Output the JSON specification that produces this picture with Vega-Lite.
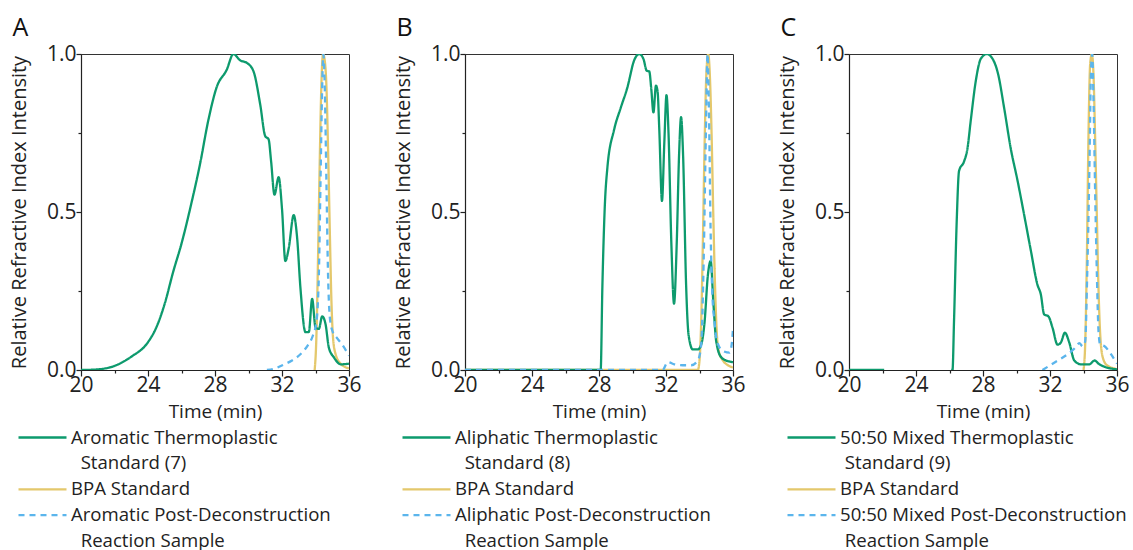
{
  "$schema": "https://vega.github.io/schema/vega-lite/v6.json",
  "padding": {"left": 8, "top": 15, "right": 5, "bottom": 0},
  "background": "white",
  "config": {
    "font": "Open Sans",
    "view": {"stroke": "#333", "strokeWidth": 1},
    "axis": {
      "grid": false,
      "labelFont": "Open Sans", "labelFontSize": 21, "labelColor": "#222",
      "titleFont": "Open Sans", "titleFontSize": 19, "titleFontWeight": "normal", "titleColor": "#222",
      "domainColor": "#222", "domainWidth": 1.2, "tickColor": "#222", "tickWidth": 1.2
    },
    "axisY": {"titleFontSize": 20},
    "title": {"font": "Open Sans", "fontSize": 25, "fontWeight": "normal", "color": "#111", "anchor": "start", "frame": "bounds", "offset": 2, "dx": 3},
    "legend": {"labelFont": "Open Sans", "labelFontSize": 18.6, "labelColor": "#222", "labelLimit": 500}
  },
  "datasets": {
    "A": [
      {"s": "BPA Standard", "t": 33.95, "v": 0},
      {"s": "BPA Standard", "t": 34.05, "v": 0.1},
      {"s": "BPA Standard", "t": 34.15, "v": 0.35},
      {"s": "BPA Standard", "t": 34.25, "v": 0.65},
      {"s": "BPA Standard", "t": 34.35, "v": 0.9},
      {"s": "BPA Standard", "t": 34.45, "v": 1.0},
      {"s": "BPA Standard", "t": 34.55, "v": 0.98},
      {"s": "BPA Standard", "t": 34.65, "v": 0.9},
      {"s": "BPA Standard", "t": 34.75, "v": 0.7},
      {"s": "BPA Standard", "t": 34.85, "v": 0.45},
      {"s": "BPA Standard", "t": 34.95, "v": 0.22},
      {"s": "BPA Standard", "t": 35.05, "v": 0.1},
      {"s": "BPA Standard", "t": 35.2, "v": 0.05},
      {"s": "BPA Standard", "t": 35.5, "v": 0.02},
      {"s": "BPA Standard", "t": 36, "v": 0.005},
      {"s": "Aromatic Thermoplastic Standard (7)", "t": 20, "v": 0},
      {"s": "Aromatic Thermoplastic Standard (7)", "t": 21, "v": 0.002},
      {"s": "Aromatic Thermoplastic Standard (7)", "t": 22, "v": 0.013},
      {"s": "Aromatic Thermoplastic Standard (7)", "t": 23, "v": 0.042},
      {"s": "Aromatic Thermoplastic Standard (7)", "t": 24, "v": 0.088},
      {"s": "Aromatic Thermoplastic Standard (7)", "t": 24.5, "v": 0.135},
      {"s": "Aromatic Thermoplastic Standard (7)", "t": 25.0, "v": 0.21},
      {"s": "Aromatic Thermoplastic Standard (7)", "t": 25.5, "v": 0.31},
      {"s": "Aromatic Thermoplastic Standard (7)", "t": 26.0, "v": 0.4},
      {"s": "Aromatic Thermoplastic Standard (7)", "t": 26.6, "v": 0.53},
      {"s": "Aromatic Thermoplastic Standard (7)", "t": 27.1, "v": 0.65},
      {"s": "Aromatic Thermoplastic Standard (7)", "t": 27.6, "v": 0.79},
      {"s": "Aromatic Thermoplastic Standard (7)", "t": 28.1, "v": 0.895},
      {"s": "Aromatic Thermoplastic Standard (7)", "t": 28.7, "v": 0.95},
      {"s": "Aromatic Thermoplastic Standard (7)", "t": 29.1, "v": 1.0},
      {"s": "Aromatic Thermoplastic Standard (7)", "t": 29.5, "v": 0.98},
      {"s": "Aromatic Thermoplastic Standard (7)", "t": 29.9, "v": 0.972},
      {"s": "Aromatic Thermoplastic Standard (7)", "t": 30.3, "v": 0.945},
      {"s": "Aromatic Thermoplastic Standard (7)", "t": 30.7, "v": 0.84},
      {"s": "Aromatic Thermoplastic Standard (7)", "t": 31.0, "v": 0.74},
      {"s": "Aromatic Thermoplastic Standard (7)", "t": 31.2, "v": 0.73},
      {"s": "Aromatic Thermoplastic Standard (7)", "t": 31.35, "v": 0.66},
      {"s": "Aromatic Thermoplastic Standard (7)", "t": 31.55, "v": 0.555},
      {"s": "Aromatic Thermoplastic Standard (7)", "t": 31.8, "v": 0.61},
      {"s": "Aromatic Thermoplastic Standard (7)", "t": 32.0, "v": 0.51},
      {"s": "Aromatic Thermoplastic Standard (7)", "t": 32.2, "v": 0.345},
      {"s": "Aromatic Thermoplastic Standard (7)", "t": 32.4, "v": 0.385},
      {"s": "Aromatic Thermoplastic Standard (7)", "t": 32.7, "v": 0.49},
      {"s": "Aromatic Thermoplastic Standard (7)", "t": 32.9, "v": 0.42},
      {"s": "Aromatic Thermoplastic Standard (7)", "t": 33.1, "v": 0.26},
      {"s": "Aromatic Thermoplastic Standard (7)", "t": 33.4, "v": 0.12},
      {"s": "Aromatic Thermoplastic Standard (7)", "t": 33.6, "v": 0.12},
      {"s": "Aromatic Thermoplastic Standard (7)", "t": 33.8, "v": 0.225},
      {"s": "Aromatic Thermoplastic Standard (7)", "t": 34.0, "v": 0.135},
      {"s": "Aromatic Thermoplastic Standard (7)", "t": 34.2, "v": 0.13},
      {"s": "Aromatic Thermoplastic Standard (7)", "t": 34.4, "v": 0.17},
      {"s": "Aromatic Thermoplastic Standard (7)", "t": 34.6, "v": 0.145},
      {"s": "Aromatic Thermoplastic Standard (7)", "t": 34.8, "v": 0.07},
      {"s": "Aromatic Thermoplastic Standard (7)", "t": 35.1, "v": 0.04},
      {"s": "Aromatic Thermoplastic Standard (7)", "t": 35.5, "v": 0.018},
      {"s": "Aromatic Thermoplastic Standard (7)", "t": 36, "v": 0.02},
      {"s": "Aromatic Post-Deconstruction Reaction Sample", "t": 31.1, "v": 0},
      {"s": "Aromatic Post-Deconstruction Reaction Sample", "t": 31.6, "v": 0.005},
      {"s": "Aromatic Post-Deconstruction Reaction Sample", "t": 32.1, "v": 0.017},
      {"s": "Aromatic Post-Deconstruction Reaction Sample", "t": 32.6, "v": 0.03},
      {"s": "Aromatic Post-Deconstruction Reaction Sample", "t": 33.1, "v": 0.05},
      {"s": "Aromatic Post-Deconstruction Reaction Sample", "t": 33.5, "v": 0.075},
      {"s": "Aromatic Post-Deconstruction Reaction Sample", "t": 33.85, "v": 0.11},
      {"s": "Aromatic Post-Deconstruction Reaction Sample", "t": 34.05, "v": 0.15},
      {"s": "Aromatic Post-Deconstruction Reaction Sample", "t": 34.2, "v": 0.3},
      {"s": "Aromatic Post-Deconstruction Reaction Sample", "t": 34.3, "v": 0.6},
      {"s": "Aromatic Post-Deconstruction Reaction Sample", "t": 34.4, "v": 0.9},
      {"s": "Aromatic Post-Deconstruction Reaction Sample", "t": 34.47, "v": 1.0},
      {"s": "Aromatic Post-Deconstruction Reaction Sample", "t": 34.55, "v": 0.9},
      {"s": "Aromatic Post-Deconstruction Reaction Sample", "t": 34.65, "v": 0.6},
      {"s": "Aromatic Post-Deconstruction Reaction Sample", "t": 34.75, "v": 0.3},
      {"s": "Aromatic Post-Deconstruction Reaction Sample", "t": 34.85, "v": 0.17},
      {"s": "Aromatic Post-Deconstruction Reaction Sample", "t": 35.0, "v": 0.125},
      {"s": "Aromatic Post-Deconstruction Reaction Sample", "t": 35.3, "v": 0.1},
      {"s": "Aromatic Post-Deconstruction Reaction Sample", "t": 35.6, "v": 0.08},
      {"s": "Aromatic Post-Deconstruction Reaction Sample", "t": 36, "v": 0.045}
    ],
    "B": [
      {"s": "BPA Standard", "t": 20, "v": 0},
      {"s": "BPA Standard", "t": 33.9, "v": 0},
      {"s": "BPA Standard", "t": 34.0, "v": 0.03},
      {"s": "BPA Standard", "t": 34.1, "v": 0.15},
      {"s": "BPA Standard", "t": 34.2, "v": 0.4},
      {"s": "BPA Standard", "t": 34.3, "v": 0.7},
      {"s": "BPA Standard", "t": 34.42, "v": 0.95},
      {"s": "BPA Standard", "t": 34.52, "v": 1.0},
      {"s": "BPA Standard", "t": 34.62, "v": 0.93},
      {"s": "BPA Standard", "t": 34.72, "v": 0.75},
      {"s": "BPA Standard", "t": 34.82, "v": 0.5},
      {"s": "BPA Standard", "t": 34.92, "v": 0.28},
      {"s": "BPA Standard", "t": 35.02, "v": 0.13},
      {"s": "BPA Standard", "t": 35.15, "v": 0.06},
      {"s": "BPA Standard", "t": 35.4, "v": 0.03},
      {"s": "BPA Standard", "t": 35.7, "v": 0.015},
      {"s": "BPA Standard", "t": 36, "v": 0.008},
      {"s": "Aliphatic Thermoplastic Standard (8)", "t": 20, "v": 0},
      {"s": "Aliphatic Thermoplastic Standard (8)", "t": 28.1, "v": 0},
      {"s": "Aliphatic Thermoplastic Standard (8)", "t": 28.2, "v": 0.26},
      {"s": "Aliphatic Thermoplastic Standard (8)", "t": 28.34, "v": 0.51},
      {"s": "Aliphatic Thermoplastic Standard (8)", "t": 28.5, "v": 0.64},
      {"s": "Aliphatic Thermoplastic Standard (8)", "t": 28.9, "v": 0.76},
      {"s": "Aliphatic Thermoplastic Standard (8)", "t": 29.3, "v": 0.83},
      {"s": "Aliphatic Thermoplastic Standard (8)", "t": 29.7, "v": 0.895},
      {"s": "Aliphatic Thermoplastic Standard (8)", "t": 30.1, "v": 0.98},
      {"s": "Aliphatic Thermoplastic Standard (8)", "t": 30.4, "v": 1.0},
      {"s": "Aliphatic Thermoplastic Standard (8)", "t": 30.65, "v": 0.985},
      {"s": "Aliphatic Thermoplastic Standard (8)", "t": 30.85, "v": 0.947},
      {"s": "Aliphatic Thermoplastic Standard (8)", "t": 31.0, "v": 0.945},
      {"s": "Aliphatic Thermoplastic Standard (8)", "t": 31.12, "v": 0.89},
      {"s": "Aliphatic Thermoplastic Standard (8)", "t": 31.25, "v": 0.815},
      {"s": "Aliphatic Thermoplastic Standard (8)", "t": 31.4, "v": 0.9},
      {"s": "Aliphatic Thermoplastic Standard (8)", "t": 31.5, "v": 0.88},
      {"s": "Aliphatic Thermoplastic Standard (8)", "t": 31.6, "v": 0.76},
      {"s": "Aliphatic Thermoplastic Standard (8)", "t": 31.76, "v": 0.535},
      {"s": "Aliphatic Thermoplastic Standard (8)", "t": 31.9, "v": 0.72},
      {"s": "Aliphatic Thermoplastic Standard (8)", "t": 32.03, "v": 0.87},
      {"s": "Aliphatic Thermoplastic Standard (8)", "t": 32.15, "v": 0.75},
      {"s": "Aliphatic Thermoplastic Standard (8)", "t": 32.32, "v": 0.4},
      {"s": "Aliphatic Thermoplastic Standard (8)", "t": 32.48, "v": 0.21},
      {"s": "Aliphatic Thermoplastic Standard (8)", "t": 32.64, "v": 0.4},
      {"s": "Aliphatic Thermoplastic Standard (8)", "t": 32.78, "v": 0.68},
      {"s": "Aliphatic Thermoplastic Standard (8)", "t": 32.9, "v": 0.8},
      {"s": "Aliphatic Thermoplastic Standard (8)", "t": 33.02, "v": 0.68},
      {"s": "Aliphatic Thermoplastic Standard (8)", "t": 33.2, "v": 0.27},
      {"s": "Aliphatic Thermoplastic Standard (8)", "t": 33.35, "v": 0.11},
      {"s": "Aliphatic Thermoplastic Standard (8)", "t": 33.6, "v": 0.065},
      {"s": "Aliphatic Thermoplastic Standard (8)", "t": 33.9, "v": 0.065},
      {"s": "Aliphatic Thermoplastic Standard (8)", "t": 34.1, "v": 0.08},
      {"s": "Aliphatic Thermoplastic Standard (8)", "t": 34.3, "v": 0.15},
      {"s": "Aliphatic Thermoplastic Standard (8)", "t": 34.5, "v": 0.3},
      {"s": "Aliphatic Thermoplastic Standard (8)", "t": 34.67, "v": 0.345},
      {"s": "Aliphatic Thermoplastic Standard (8)", "t": 34.82, "v": 0.22},
      {"s": "Aliphatic Thermoplastic Standard (8)", "t": 35.0, "v": 0.09},
      {"s": "Aliphatic Thermoplastic Standard (8)", "t": 35.3, "v": 0.04},
      {"s": "Aliphatic Thermoplastic Standard (8)", "t": 35.7, "v": 0.028},
      {"s": "Aliphatic Thermoplastic Standard (8)", "t": 36, "v": 0.025},
      {"s": "Aliphatic Post-Deconstruction Reaction Sample", "t": 20, "v": 0},
      {"s": "Aliphatic Post-Deconstruction Reaction Sample", "t": 31.8, "v": 0},
      {"s": "Aliphatic Post-Deconstruction Reaction Sample", "t": 32.1, "v": 0.025},
      {"s": "Aliphatic Post-Deconstruction Reaction Sample", "t": 32.5, "v": 0.018},
      {"s": "Aliphatic Post-Deconstruction Reaction Sample", "t": 33.0, "v": 0.015},
      {"s": "Aliphatic Post-Deconstruction Reaction Sample", "t": 33.5, "v": 0.015},
      {"s": "Aliphatic Post-Deconstruction Reaction Sample", "t": 33.9, "v": 0.03},
      {"s": "Aliphatic Post-Deconstruction Reaction Sample", "t": 34.1, "v": 0.08},
      {"s": "Aliphatic Post-Deconstruction Reaction Sample", "t": 34.25, "v": 0.35},
      {"s": "Aliphatic Post-Deconstruction Reaction Sample", "t": 34.38, "v": 0.75},
      {"s": "Aliphatic Post-Deconstruction Reaction Sample", "t": 34.48, "v": 1.0},
      {"s": "Aliphatic Post-Deconstruction Reaction Sample", "t": 34.57, "v": 0.8},
      {"s": "Aliphatic Post-Deconstruction Reaction Sample", "t": 34.66, "v": 0.45},
      {"s": "Aliphatic Post-Deconstruction Reaction Sample", "t": 34.76, "v": 0.25},
      {"s": "Aliphatic Post-Deconstruction Reaction Sample", "t": 34.9, "v": 0.15},
      {"s": "Aliphatic Post-Deconstruction Reaction Sample", "t": 35.05, "v": 0.09},
      {"s": "Aliphatic Post-Deconstruction Reaction Sample", "t": 35.4, "v": 0.06},
      {"s": "Aliphatic Post-Deconstruction Reaction Sample", "t": 35.8, "v": 0.055},
      {"s": "Aliphatic Post-Deconstruction Reaction Sample", "t": 35.92, "v": 0.08},
      {"s": "Aliphatic Post-Deconstruction Reaction Sample", "t": 36, "v": 0.13}
    ],
    "C": [
      {"s": "BPA Standard", "t": 34.0, "v": 0},
      {"s": "BPA Standard", "t": 34.1, "v": 0.08},
      {"s": "BPA Standard", "t": 34.2, "v": 0.35},
      {"s": "BPA Standard", "t": 34.3, "v": 0.75},
      {"s": "BPA Standard", "t": 34.4, "v": 0.97},
      {"s": "BPA Standard", "t": 34.5, "v": 1.0},
      {"s": "BPA Standard", "t": 34.6, "v": 0.93},
      {"s": "BPA Standard", "t": 34.7, "v": 0.72},
      {"s": "BPA Standard", "t": 34.8, "v": 0.48},
      {"s": "BPA Standard", "t": 34.9, "v": 0.25},
      {"s": "BPA Standard", "t": 35.0, "v": 0.11},
      {"s": "BPA Standard", "t": 35.15, "v": 0.04},
      {"s": "BPA Standard", "t": 35.4, "v": 0.015},
      {"s": "BPA Standard", "t": 36, "v": 0.003},
      {"s": "50:50 Mixed Thermoplastic Standard (9)", "t": 20, "v": 0},
      {"s": "50:50 Mixed Thermoplastic Standard (9)", "t": 22.1, "v": 0},
      {"s": "50:50 Mixed Thermoplastic Standard (9)", "t": 22.15, "v": null},
      {"s": "50:50 Mixed Thermoplastic Standard (9)", "t": 26.1, "v": 0},
      {"s": "50:50 Mixed Thermoplastic Standard (9)", "t": 26.18, "v": 0},
      {"s": "50:50 Mixed Thermoplastic Standard (9)", "t": 26.27, "v": 0.155},
      {"s": "50:50 Mixed Thermoplastic Standard (9)", "t": 26.43, "v": 0.47},
      {"s": "50:50 Mixed Thermoplastic Standard (9)", "t": 26.57, "v": 0.63},
      {"s": "50:50 Mixed Thermoplastic Standard (9)", "t": 26.87, "v": 0.66},
      {"s": "50:50 Mixed Thermoplastic Standard (9)", "t": 27.07, "v": 0.7},
      {"s": "50:50 Mixed Thermoplastic Standard (9)", "t": 27.27, "v": 0.79},
      {"s": "50:50 Mixed Thermoplastic Standard (9)", "t": 27.57, "v": 0.915},
      {"s": "50:50 Mixed Thermoplastic Standard (9)", "t": 27.87, "v": 0.985},
      {"s": "50:50 Mixed Thermoplastic Standard (9)", "t": 28.23, "v": 1.0},
      {"s": "50:50 Mixed Thermoplastic Standard (9)", "t": 28.57, "v": 0.985},
      {"s": "50:50 Mixed Thermoplastic Standard (9)", "t": 28.9, "v": 0.937},
      {"s": "50:50 Mixed Thermoplastic Standard (9)", "t": 29.26, "v": 0.83},
      {"s": "50:50 Mixed Thermoplastic Standard (9)", "t": 29.66, "v": 0.7},
      {"s": "50:50 Mixed Thermoplastic Standard (9)", "t": 30.06, "v": 0.6},
      {"s": "50:50 Mixed Thermoplastic Standard (9)", "t": 30.46, "v": 0.49},
      {"s": "50:50 Mixed Thermoplastic Standard (9)", "t": 30.86, "v": 0.377},
      {"s": "50:50 Mixed Thermoplastic Standard (9)", "t": 31.25, "v": 0.27},
      {"s": "50:50 Mixed Thermoplastic Standard (9)", "t": 31.45, "v": 0.24},
      {"s": "50:50 Mixed Thermoplastic Standard (9)", "t": 31.65, "v": 0.176},
      {"s": "50:50 Mixed Thermoplastic Standard (9)", "t": 31.9, "v": 0.17},
      {"s": "50:50 Mixed Thermoplastic Standard (9)", "t": 32.15, "v": 0.134},
      {"s": "50:50 Mixed Thermoplastic Standard (9)", "t": 32.45, "v": 0.08},
      {"s": "50:50 Mixed Thermoplastic Standard (9)", "t": 32.65, "v": 0.087},
      {"s": "50:50 Mixed Thermoplastic Standard (9)", "t": 32.89, "v": 0.118},
      {"s": "50:50 Mixed Thermoplastic Standard (9)", "t": 33.15, "v": 0.087},
      {"s": "50:50 Mixed Thermoplastic Standard (9)", "t": 33.45, "v": 0.03},
      {"s": "50:50 Mixed Thermoplastic Standard (9)", "t": 33.85, "v": 0.018},
      {"s": "50:50 Mixed Thermoplastic Standard (9)", "t": 34.35, "v": 0.018},
      {"s": "50:50 Mixed Thermoplastic Standard (9)", "t": 34.65, "v": 0.03},
      {"s": "50:50 Mixed Thermoplastic Standard (9)", "t": 34.95, "v": 0.018},
      {"s": "50:50 Mixed Thermoplastic Standard (9)", "t": 35.45, "v": 0.007},
      {"s": "50:50 Mixed Thermoplastic Standard (9)", "t": 36, "v": 0.002},
      {"s": "50:50 Mixed Post-Deconstruction Reaction Sample", "t": 31.55, "v": 0},
      {"s": "50:50 Mixed Post-Deconstruction Reaction Sample", "t": 32.25, "v": 0.023},
      {"s": "50:50 Mixed Post-Deconstruction Reaction Sample", "t": 33.05, "v": 0.05},
      {"s": "50:50 Mixed Post-Deconstruction Reaction Sample", "t": 33.5, "v": 0.07},
      {"s": "50:50 Mixed Post-Deconstruction Reaction Sample", "t": 33.75, "v": 0.085},
      {"s": "50:50 Mixed Post-Deconstruction Reaction Sample", "t": 33.95, "v": 0.075},
      {"s": "50:50 Mixed Post-Deconstruction Reaction Sample", "t": 34.1, "v": 0.09},
      {"s": "50:50 Mixed Post-Deconstruction Reaction Sample", "t": 34.22, "v": 0.3},
      {"s": "50:50 Mixed Post-Deconstruction Reaction Sample", "t": 34.34, "v": 0.6},
      {"s": "50:50 Mixed Post-Deconstruction Reaction Sample", "t": 34.45, "v": 0.95},
      {"s": "50:50 Mixed Post-Deconstruction Reaction Sample", "t": 34.52, "v": 1.0},
      {"s": "50:50 Mixed Post-Deconstruction Reaction Sample", "t": 34.6, "v": 0.85},
      {"s": "50:50 Mixed Post-Deconstruction Reaction Sample", "t": 34.7, "v": 0.55},
      {"s": "50:50 Mixed Post-Deconstruction Reaction Sample", "t": 34.8, "v": 0.3},
      {"s": "50:50 Mixed Post-Deconstruction Reaction Sample", "t": 34.9, "v": 0.12},
      {"s": "50:50 Mixed Post-Deconstruction Reaction Sample", "t": 35.0, "v": 0.08},
      {"s": "50:50 Mixed Post-Deconstruction Reaction Sample", "t": 35.24, "v": 0.076},
      {"s": "50:50 Mixed Post-Deconstruction Reaction Sample", "t": 35.64, "v": 0.05},
      {"s": "50:50 Mixed Post-Deconstruction Reaction Sample", "t": 36, "v": 0.02}
    ]
  },
  "hconcat": [
    {
      "title": {"text": "A"},
      "width": 268, "height": 316,
      "data": {"name": "A"},
      "mark": {"type": "line", "interpolate": "monotone", "strokeWidth": 2.3, "clip": true},
      "encoding": {
        "x": {"field": "t", "type": "quantitative", "scale": {"domain": [20, 36]},
          "axis": {"title": "Time (min)", "values": [20, 22, 24, 26, 28, 30, 32, 34, 36], "labelExpr": "datum.value % 4 == 0 ? datum.label : ''", "tickSize": {"condition": {"test": "datum.value % 4 != 0", "value": 3}, "value": 6}, "labelPadding": -2, "titlePadding": 7, "labelFlush": false}},
        "y": {"field": "v", "type": "quantitative", "scale": {"domain": [0, 1]},
          "axis": {"title": "Relative Refractive Index Intensity", "values": [0, 0.25, 0.5, 0.75, 1], "labelExpr": "datum.value == 0.25 || datum.value == 0.75 ? '' : format(datum.value, '.1f')", "tickSize": {"condition": {"test": "datum.value == 0.25 || datum.value == 0.75", "value": 3}, "value": 5}, "labelPadding": 0, "titlePadding": 17}},
        "color": {"field": "s", "type": "nominal",
          "scale": {"domain": ["Aromatic Thermoplastic Standard (7)", "_a", "BPA Standard", "Aromatic Post-Deconstruction Reaction Sample", "_b"], "range": ["#0d9a6d", "transparent", "#e4c86c", "#5bb5ec", "transparent"]},
          "legend": {"orient": "none", "legendX": -52, "legendY": 370, "direction": "vertical", "title": null, "symbolType": "M-2,0H2", "symbolSize": 576, "symbolStrokeWidth": 2.3, "rowPadding": 1.9, "labelOffset": 15,
            "labelExpr": "datum.label == '_a' ? '\u200b\u00a0\u00a0Standard (7)' : datum.label == '_b' ? '\u200b\u00a0\u00a0Reaction Sample' : datum.label == 'BPA Standard' ? datum.label : replace(replace(datum.label, ' Standard (7)', ''), ' Reaction Sample', '')"}},
        "strokeDash": {"field": "s", "type": "nominal",
          "scale": {"domain": ["Aromatic Thermoplastic Standard (7)", "_a", "BPA Standard", "Aromatic Post-Deconstruction Reaction Sample", "_b"], "range": [[1, 0], [1, 0], [1, 0], [6, 5], [1, 0]]},
          "legend": {"orient": "none", "legendX": -52, "legendY": 370, "direction": "vertical", "title": null, "symbolType": "M-2,0H2", "symbolSize": 576, "symbolStrokeWidth": 2.3, "rowPadding": 1.9, "labelOffset": 15,
            "labelExpr": "datum.label == '_a' ? '\u200b\u00a0\u00a0Standard (7)' : datum.label == '_b' ? '\u200b\u00a0\u00a0Reaction Sample' : datum.label == 'BPA Standard' ? datum.label : replace(replace(datum.label, ' Standard (7)', ''), ' Reaction Sample', '')"}}
      }
    },
    {
      "title": {"text": "B"},
      "width": 268, "height": 316,
      "data": {"name": "B"},
      "mark": {"type": "line", "interpolate": "monotone", "strokeWidth": 2.3, "clip": true},
      "encoding": {
        "x": {"field": "t", "type": "quantitative", "scale": {"domain": [20, 36]},
          "axis": {"title": "Time (min)", "values": [20, 22, 24, 26, 28, 30, 32, 34, 36], "labelExpr": "datum.value % 4 == 0 ? datum.label : ''", "tickSize": {"condition": {"test": "datum.value % 4 != 0", "value": 3}, "value": 6}, "labelPadding": -2, "titlePadding": 7, "labelFlush": false}},
        "y": {"field": "v", "type": "quantitative", "scale": {"domain": [0, 1]},
          "axis": {"title": "Relative Refractive Index Intensity", "values": [0, 0.25, 0.5, 0.75, 1], "labelExpr": "datum.value == 0.25 || datum.value == 0.75 ? '' : format(datum.value, '.1f')", "tickSize": {"condition": {"test": "datum.value == 0.25 || datum.value == 0.75", "value": 3}, "value": 5}, "labelPadding": 0, "titlePadding": 17}},
        "color": {"field": "s", "type": "nominal",
          "scale": {"domain": ["Aliphatic Thermoplastic Standard (8)", "_a", "BPA Standard", "Aliphatic Post-Deconstruction Reaction Sample", "_b"], "range": ["#0d9a6d", "transparent", "#e4c86c", "#5bb5ec", "transparent"]},
          "legend": {"orient": "none", "legendX": -52, "legendY": 370, "direction": "vertical", "title": null, "symbolType": "M-2,0H2", "symbolSize": 576, "symbolStrokeWidth": 2.3, "rowPadding": 1.9, "labelOffset": 15,
            "labelExpr": "datum.label == '_a' ? '\u200b\u00a0\u00a0Standard (8)' : datum.label == '_b' ? '\u200b\u00a0\u00a0Reaction Sample' : datum.label == 'BPA Standard' ? datum.label : replace(replace(datum.label, ' Standard (8)', ''), ' Reaction Sample', '')"}},
        "strokeDash": {"field": "s", "type": "nominal",
          "scale": {"domain": ["Aliphatic Thermoplastic Standard (8)", "_a", "BPA Standard", "Aliphatic Post-Deconstruction Reaction Sample", "_b"], "range": [[1, 0], [1, 0], [1, 0], [6, 5], [1, 0]]},
          "legend": {"orient": "none", "legendX": -52, "legendY": 370, "direction": "vertical", "title": null, "symbolType": "M-2,0H2", "symbolSize": 576, "symbolStrokeWidth": 2.3, "rowPadding": 1.9, "labelOffset": 15,
            "labelExpr": "datum.label == '_a' ? '\u200b\u00a0\u00a0Standard (8)' : datum.label == '_b' ? '\u200b\u00a0\u00a0Reaction Sample' : datum.label == 'BPA Standard' ? datum.label : replace(replace(datum.label, ' Standard (8)', ''), ' Reaction Sample', '')"}}
      }
    },
    {
      "title": {"text": "C"},
      "width": 268, "height": 316,
      "data": {"name": "C"},
      "mark": {"type": "line", "interpolate": "monotone", "strokeWidth": 2.3, "clip": true, "invalid": "break-paths-show-domains"},
      "encoding": {
        "x": {"field": "t", "type": "quantitative", "scale": {"domain": [20, 36]},
          "axis": {"title": "Time (min)", "values": [20, 22, 24, 26, 28, 30, 32, 34, 36], "labelExpr": "datum.value % 4 == 0 ? datum.label : ''", "tickSize": {"condition": {"test": "datum.value % 4 != 0", "value": 3}, "value": 6}, "labelPadding": -2, "titlePadding": 7, "labelFlush": false}},
        "y": {"field": "v", "type": "quantitative", "scale": {"domain": [0, 1]},
          "axis": {"title": "Relative Refractive Index Intensity", "values": [0, 0.25, 0.5, 0.75, 1], "labelExpr": "datum.value == 0.25 || datum.value == 0.75 ? '' : format(datum.value, '.1f')", "tickSize": {"condition": {"test": "datum.value == 0.25 || datum.value == 0.75", "value": 3}, "value": 5}, "labelPadding": 0, "titlePadding": 17}},
        "color": {"field": "s", "type": "nominal",
          "scale": {"domain": ["50:50 Mixed Thermoplastic Standard (9)", "_a", "BPA Standard", "50:50 Mixed Post-Deconstruction Reaction Sample", "_b"], "range": ["#0d9a6d", "transparent", "#e4c86c", "#5bb5ec", "transparent"]},
          "legend": {"orient": "none", "legendX": -51, "legendY": 370, "direction": "vertical", "title": null, "symbolType": "M-2,0H2", "symbolSize": 576, "symbolStrokeWidth": 2.3, "rowPadding": 1.9, "labelOffset": 15,
            "labelExpr": "datum.label == '_a' ? '\u200b\u00a0Standard (9)' : datum.label == '_b' ? '\u200b\u00a0Reaction Sample' : datum.label == 'BPA Standard' ? datum.label : replace(replace(datum.label, ' Standard (9)', ''), ' Reaction Sample', '')"}},
        "strokeDash": {"field": "s", "type": "nominal",
          "scale": {"domain": ["50:50 Mixed Thermoplastic Standard (9)", "_a", "BPA Standard", "50:50 Mixed Post-Deconstruction Reaction Sample", "_b"], "range": [[1, 0], [1, 0], [1, 0], [6, 5], [1, 0]]},
          "legend": {"orient": "none", "legendX": -51, "legendY": 370, "direction": "vertical", "title": null, "symbolType": "M-2,0H2", "symbolSize": 576, "symbolStrokeWidth": 2.3, "rowPadding": 1.9, "labelOffset": 15,
            "labelExpr": "datum.label == '_a' ? '\u200b\u00a0Standard (9)' : datum.label == '_b' ? '\u200b\u00a0Reaction Sample' : datum.label == 'BPA Standard' ? datum.label : replace(replace(datum.label, ' Standard (9)', ''), ' Reaction Sample', '')"}}
      }
    }
  ],
  "spacing": 116,
  "bounds": "flush",
  "resolve": {"scale": {"color": "independent", "strokeDash": "independent", "x": "independent", "y": "independent"}, "legend": {"color": "independent", "strokeDash": "independent"}}
}
